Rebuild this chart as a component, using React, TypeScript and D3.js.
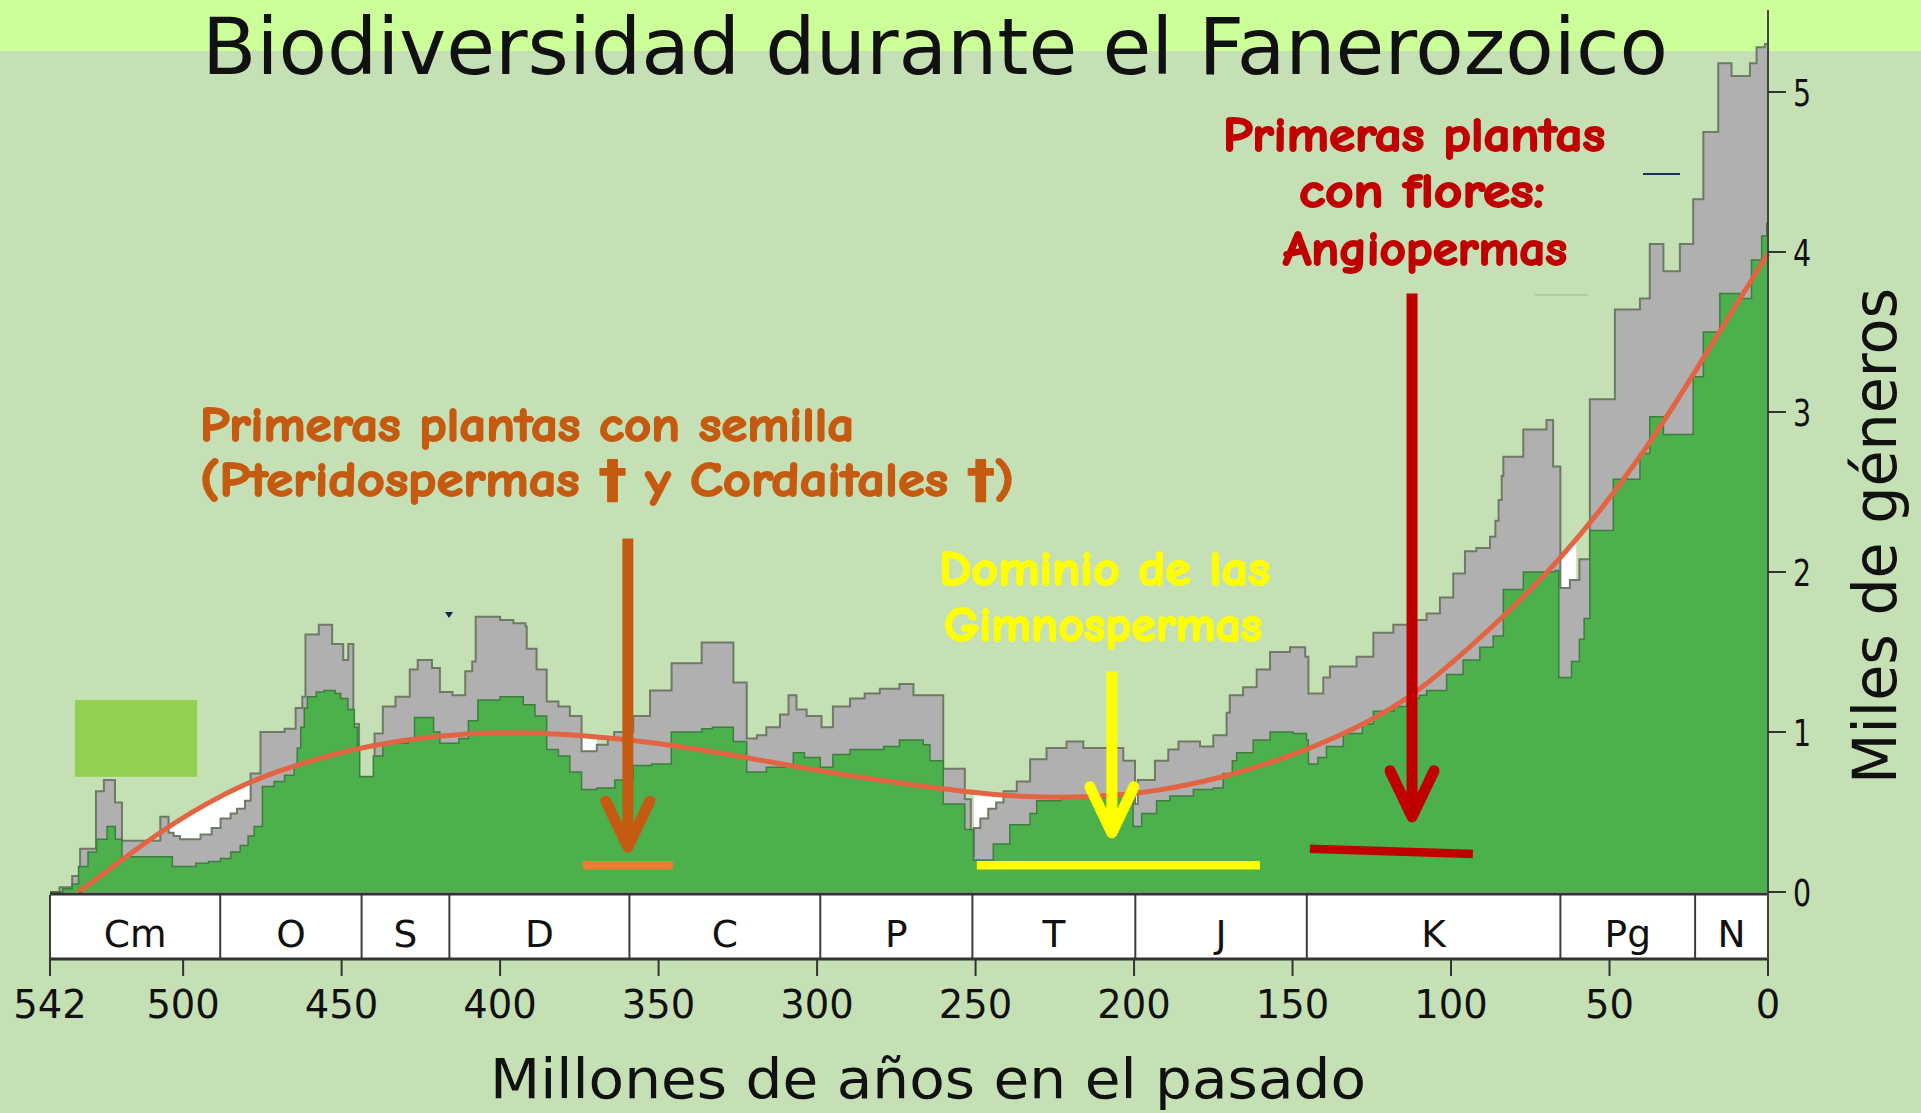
import React from "react";
import * as d3 from "d3";

const width = 1921;
const height = 1113;

type Pt = [number, number]; // [age in Ma, thousands of genera]

// all genera (grey)
const allGenera: Pt[] = [
  [542, 0], [539, 0.03], [535, 0.1], [532.5, 0.27], [527.5, 0.63], [525, 0.7], [521.5, 0.56],
  [519.3, 0.32], [507.2, 0.47], [504.6, 0.37], [503, 0.35], [501, 0.33], [497, 0.33], [494.5, 0.36],
  [491, 0.4], [488.2, 0.46], [485, 0.49], [483, 0.52], [480.5, 0.57], [478.7, 0.74], [475.6, 1.0],
  [468, 1.02], [464.5, 1.15], [462.4, 1.22], [461.4, 1.61], [457.2, 1.67], [453, 1.55], [449.5, 1.45],
  [447.9, 1.55], [446.3, 1.05], [444.5, 0.72], [439.6, 0.99], [437, 1.16], [433, 1.22], [428.5, 1.39],
  [426, 1.45], [421.5, 1.4], [419, 1.25], [415, 1.23], [411, 1.38], [408.8, 1.44], [407.7, 1.72],
  [400, 1.7], [395.8, 1.68], [392, 1.66], [391.6, 1.52], [388.5, 1.39], [385.3, 1.19], [381.6, 1.16],
  [378, 1.1], [374.3, 0.88], [369.5, 0.92], [366, 0.96], [364, 1.0], [358, 1.1], [352.7, 1.26],
  [345.9, 1.43], [336.4, 1.56], [326.4, 1.31], [322.2, 0.96], [319, 0.98], [316, 1.03], [311.7, 1.11],
  [309, 1.23], [306.5, 1.14], [303.3, 1.1], [298.6, 1.03], [295, 1.16], [289.6, 1.21], [285, 1.24],
  [280.2, 1.27], [274, 1.3], [269.6, 1.23], [260.2, 0.77], [253.4, 0.58], [251.5, 0.22], [250.5, 0.4],
  [248.5, 0.46], [246, 0.52], [243.5, 0.56], [241.2, 0.63], [237, 0.69], [232.8, 0.83], [227.6, 0.9],
  [221.3, 0.94], [216, 0.9], [203.4, 0.82], [199.7, 0.55], [198.8, 0.7], [193.4, 0.82], [189.2, 0.89],
  [186, 0.94], [179.2, 0.91], [175, 0.98], [170.8, 1.12], [169.8, 1.23], [165.6, 1.28], [161.3, 1.39],
  [157.1, 1.5], [150.8, 1.53], [146, 1.47], [145, 1.24], [140.3, 1.34], [138.2, 1.41], [129.8, 1.47],
  [124.5, 1.62], [118.2, 1.67], [111.9, 1.7], [107.7, 1.74], [103.5, 1.84], [99.3, 1.99], [95.6, 2.13],
  [92, 2.15], [87.7, 2.22], [86, 2.32], [85, 2.45], [84, 2.6], [83.5, 2.72], [77.2, 2.89], [69.9, 2.95],
  [67.8, 2.66], [65.5, 1.9], [62.5, 1.95], [59.5, 2.08], [56.2, 3.08], [48.3, 3.64], [40.4, 3.71],
  [37.3, 4.05], [33, 3.88], [27.8, 4.05], [23.6, 4.33], [20.4, 4.75], [15.7, 5.18], [11.5, 5.1],
  [5.7, 5.18], [3.6, 5.28], [1, 5.3], [0, 5.3],
];

// well-defined genera (green)
const wellDefined: Pt[] = [
  [542, 0], [538, 0.02], [535, 0.05], [533, 0.16], [530, 0.25], [527.3, 0.33], [524, 0.41],
  [521.4, 0.33], [519.3, 0.22], [503.4, 0.16], [496, 0.18], [492, 0.19], [488.2, 0.21], [485, 0.25],
  [482, 0.29], [479.5, 0.35], [477.6, 0.41], [475, 0.66], [471.3, 0.69], [468, 0.73], [465, 0.79],
  [464, 0.9], [462.9, 1.03], [461.8, 1.15], [460.8, 1.22], [458, 1.25], [455.5, 1.26], [452, 1.24],
  [450.3, 1.21], [448, 1.14], [446, 1.03], [445, 0.89], [444.3, 0.72], [440, 0.85], [437, 0.93],
  [429, 0.95], [427, 1.09], [421, 1.0], [419, 0.93], [413, 0.96], [410, 1.07], [407, 1.2], [400, 1.22],
  [392.7, 1.17], [389, 1.1], [385.3, 0.89], [381.6, 0.85], [378, 0.75], [374.3, 0.64], [369.5, 0.65],
  [363.8, 0.7], [358, 0.79], [352.2, 0.8], [346, 1.0], [336.4, 1.02], [333, 1.03], [326.4, 0.94],
  [322.2, 0.75], [316, 0.78], [310, 0.8], [307.5, 0.87], [304, 0.84], [299, 0.78], [295, 0.86],
  [289.6, 0.89], [279, 0.91], [274, 0.95], [266.5, 0.92], [264.4, 0.82], [260.2, 0.55], [253.4, 0.39],
  [250.7, 0.2], [244.4, 0.3], [239.2, 0.42], [232.8, 0.49], [230.7, 0.57], [223, 0.6], [202, 0.6],
  [200.3, 0.41], [197.6, 0.49], [192.9, 0.57], [188.7, 0.6], [181.3, 0.64], [175, 0.65], [171.9, 0.74],
  [169, 0.82], [167.6, 0.87], [162.4, 0.95], [157.1, 1.0], [149.8, 0.99], [145.6, 0.95], [145, 0.8],
  [142, 0.84], [139.3, 0.91], [134, 0.99], [128, 1.05], [124.5, 1.13], [118, 1.16], [114, 1.21],
  [110, 1.23], [107.7, 1.26], [101.4, 1.36], [96.2, 1.45], [90.9, 1.53], [86.7, 1.6], [83.5, 1.89],
  [77.2, 2.0], [67.2, 2.01], [66, 1.34], [62, 1.44], [59.5, 1.58], [58, 1.71], [56.2, 2.26],
  [48.8, 2.58], [40.4, 2.74], [37.3, 2.97], [33, 2.86], [23.6, 3.22], [20.4, 3.5], [15.2, 3.74],
  [8.9, 3.71], [5.2, 3.95], [2, 4.1], [0.4, 4.18], [0, 4.18],
];

// smooth trend line
const trend: Pt[] = [
  [533, 0], [524, 0.13], [514, 0.28], [503, 0.43], [492, 0.56], [481, 0.67], [471, 0.75], [455, 0.85],
  [440, 0.92], [419, 0.98], [400, 1.0], [380, 0.99], [358, 0.95], [340, 0.9], [322, 0.84], [295, 0.74],
  [270, 0.67], [255, 0.63], [234, 0.59], [213, 0.59], [192, 0.63], [171, 0.72], [150, 0.85],
  [129, 1.03], [112, 1.22], [91, 1.58], [66, 2.05], [38, 2.76], [17, 3.45], [0, 3.99],
];

// spots left white between the grey edge and the trend line
const whitePockets: [number, number][] = [
  [504.6, 478.7], [374.3, 369.5], [250.5, 241.2], [199.7, 198.8], [65.5, 60.5],
];

const periodNames = ["Cm", "O", "S", "D", "C", "P", "T", "J", "K", "Pg", "N"];
const periodBounds = [542, 488.3, 443.7, 416, 359.2, 299, 251, 199.6, 145.5, 65.5, 23, 0];
const xTickValues = [542, 500, 450, 400, 350, 300, 250, 200, 150, 100, 50, 0];
const yTickValues = [0, 1, 2, 3, 4, 5];

const arrows = [
  { age: 359.7, top: 2.21, tip: 0.28, color: "#c55a11" },
  { age: 207, top: 1.38, tip: 0.37, color: "#ffff00" },
  { age: 112.3, top: 3.74, tip: 0.47, color: "#c00000" },
];
const bars = [
  { from: 373.9, to: 345.5, v0: 0.167, v1: 0.167, color: "#ed7d31" },
  { from: 249.6, to: 160.3, v0: 0.167, v1: 0.167, color: "#ffff00" },
  { from: 144.5, to: 93.1, v0: 0.27, v1: 0.237, color: "#c00000" },
];

const x = d3.scaleLinear().domain([542, 0]).range([50, 1768]);
const y = d3.scaleLinear().domain([0, 5]).range([892, 92]);

const comic = "'Comic Sans MS', 'Comic Neue', 'DejaVu Sans', sans-serif";

export default function App() {
  const stepArea = d3.area<Pt>().x((d) => x(d[0])).y0(y(0)).y1((d) => y(d[1])).curve(d3.curveStepAfter);
  const stepLine = d3.line<Pt>().x((d) => x(d[0])).y((d) => y(d[1])).curve(d3.curveStepAfter);
  const trendArea = d3.area<Pt>().x((d) => x(d[0])).y0(y(0)).y1((d) => y(d[1])).curve(d3.curveBasis);
  const trendLine = d3.line<Pt>().x((d) => x(d[0])).y((d) => y(d[1])).curve(d3.curveBasis);

  return (
    <svg width={width} height={height} style={{ position: "absolute", left: 0, top: 0, display: "block" }}>
      <defs>
        <clipPath id="pockets">
          {whitePockets.map(([a0, a1], i) => (
            <rect key={i} x={x(a0)} y={0} width={x(a1) - x(a0)} height={height} />
          ))}
        </clipPath>
      </defs>
      <rect x={0} y={0} width={width} height={height} fill="#c5e0b4" />
      <rect x={0} y={0} width={width} height={51} fill="#ccff99" />

      <text x={935} y={74} fontFamily="DejaVu Sans" fontSize={78} textAnchor="middle" fill="#111"
        textLength={1466} lengthAdjust="spacingAndGlyphs">
        Biodiversidad durante el Fanerozoico
      </text>

      <path d={trendArea(trend) ?? ""} fill="#ffffff" clipPath="url(#pockets)" />
      <path d={stepArea(allGenera) ?? ""} fill="#b0b0b0" />
      <path d={stepLine(allGenera) ?? ""} fill="none" stroke="#6e7a66" strokeWidth={2} />
      <path d={stepArea(wellDefined) ?? ""} fill="#4cb04c" />
      <path d={stepLine(wellDefined) ?? ""} fill="none" stroke="#3e7e3e" strokeWidth={1.5} />
      <path d={trendLine(trend) ?? ""} fill="none" stroke="#e26442" strokeWidth={5} />

      {/* period strip */}
      <rect x={x(542)} y={895} width={x(0) - x(542)} height={64} fill="#ffffff" />
      {periodBounds.map((b, i) => (
        <line key={i} x1={x(b)} x2={x(b)} y1={895} y2={959} stroke="#3c3c3c" strokeWidth={2} />
      ))}
      <line x1={x(542)} x2={x(0)} y1={894} y2={894} stroke="#333" strokeWidth={3} />
      <line x1={x(542)} x2={x(0)} y1={959} y2={959} stroke="#333" strokeWidth={3} />
      {periodNames.map((n, i) => (
        <text key={n} x={(x(periodBounds[i]) + x(periodBounds[i + 1])) / 2} y={947} fontFamily="DejaVu Sans"
          fontSize={37.5} textAnchor="middle" fill="#111">
          {n}
        </text>
      ))}

      {/* x axis */}
      {xTickValues.map((t) => (
        <g key={t}>
          <line x1={x(t)} x2={x(t)} y1={959} y2={976} stroke="#333" strokeWidth={2} />
          <text x={x(t)} y={1018} fontFamily="DejaVu Sans" fontSize={38.5} textAnchor="middle" fill="#111">
            {t}
          </text>
        </g>
      ))}
      <text x={928} y={1098} fontFamily="DejaVu Sans" fontSize={55} textAnchor="middle" fill="#111"
        textLength={876} lengthAdjust="spacingAndGlyphs">
        Millones de años en el pasado
      </text>

      {/* y axis */}
      <line x1={x(0)} x2={x(0)} y1={10} y2={959} stroke="#444" strokeWidth={2} />
      {yTickValues.map((t) => (
        <g key={t}>
          <line x1={x(0)} x2={x(0) + 18} y1={y(t)} y2={y(t)} stroke="#333" strokeWidth={2} />
          <text transform={`translate(1793,${y(t) + 14}) scale(0.75,1)`} fontFamily="DejaVu Sans" fontSize={38}
            fill="#111">
            {t}
          </text>
        </g>
      ))}
      <text transform="translate(1896,536) rotate(-90)" fontFamily="DejaVu Sans" fontSize={60} textAnchor="middle"
        fill="#111" textLength={496} lengthAdjust="spacingAndGlyphs">
        Miles de géneros
      </text>

      {/* pasted-on bits */}
      <rect x={x(534.1)} y={y(1.2)} width={x(495.6) - x(534.1)} height={y(0.72) - y(1.2)} fill="#92d050" />
      <line x1={1643} x2={1680} y1={174} y2={174} stroke="#1f2d5a" strokeWidth={2} />
      <line x1={1535} x2={1588} y1={295} y2={295} stroke="#a9c79a" strokeWidth={1.5} />
      <path d="M445,612 L453,612 L449,618 Z" fill="#13235a" />

      {bars.map((b, i) => (
        <line key={i} x1={x(b.from)} x2={x(b.to)} y1={y(b.v0)} y2={y(b.v1)} stroke={b.color} strokeWidth={8.5} />
      ))}
      {arrows.map((a, i) => {
        const ax = x(a.age);
        const ty = y(a.tip);
        return (
          <g key={i} stroke={a.color} strokeWidth={11} fill="none" strokeLinecap="round" strokeLinejoin="round">
            <line x1={ax} x2={ax} y1={y(a.top)} y2={ty - 6} strokeLinecap="butt" />
            <path d={`M${ax - 22},${ty - 46} L${ax},${ty} L${ax + 22},${ty - 46}`} />
          </g>
        );
      })}

      <g fontFamily={comic} fontWeight="bold" strokeWidth={1.8} strokeLinejoin="round">
        <text x={200} y={441} fontSize={49} fill="#c55a11" stroke="#c55a11" textLength={654}
          lengthAdjust="spacingAndGlyphs">
          Primeras plantas con semilla
        </text>
        <text x={200} y={496} fontSize={49} fill="#c55a11" stroke="#c55a11" textLength={814}
          lengthAdjust="spacingAndGlyphs">
          (Pteridospermas † y Cordaitales †)
        </text>
        <text x={939} y={585} fontSize={48} fill="#ffff00" stroke="#ffff00" textLength={331}
          lengthAdjust="spacingAndGlyphs">
          Dominio de las
        </text>
        <text x={944} y={641} fontSize={48} fill="#ffff00" stroke="#ffff00" textLength={318}
          lengthAdjust="spacingAndGlyphs">
          Gimnospermas
        </text>
        <text x={1223} y={151} fontSize={48} fill="#c00000" stroke="#c00000" textLength={382}
          lengthAdjust="spacingAndGlyphs">
          Primeras plantas
        </text>
        <text x={1299} y={207} fontSize={48} fill="#c00000" stroke="#c00000" textLength={246}
          lengthAdjust="spacingAndGlyphs">
          con flores:
        </text>
        <text x={1283} y={265} fontSize={48} fill="#c00000" stroke="#c00000" textLength={284}
          lengthAdjust="spacingAndGlyphs">
          Angiopermas
        </text>
      </g>
    </svg>
  );
}
